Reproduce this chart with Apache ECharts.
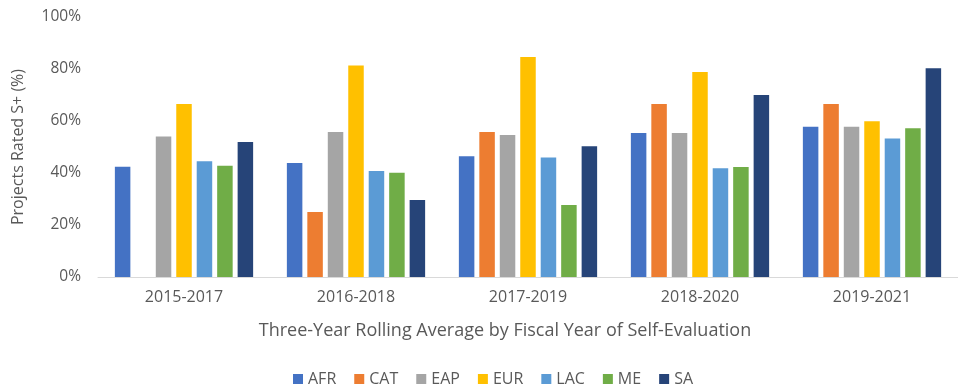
<!DOCTYPE html>
<html><head><meta charset="utf-8">
<script src="https://cdn.jsdelivr.net/npm/echarts@6/dist/echarts.min.js"></script>
<style>html,body{margin:0;padding:0;background:#fff}#c{width:958px;height:384px}</style>
</head><body><div id="c"></div>
<script>
const categories = ['2015-2017','2016-2018','2017-2019','2018-2020','2019-2021'];
const seriesNames = ['AFR','CAT','EAP','EUR','LAC','ME','SA'];
const AFR = [42.4, 43.8, 46.4, 55.4, 57.8];
const CAT = [null, 25.0, 55.8, 66.5, 66.5];
const EAP = [54.0, 55.8, 54.6, 55.4, 57.8];
const EUR = [66.5, 81.3, 84.6, 78.8, 59.9];
const LAC = [44.5, 40.8, 46.0, 41.8, 53.3];
const ME  = [42.8, 40.1, 27.7, 42.3, 57.2];
const SA  = [51.9, 29.6, 50.3, 70.0, 80.3];
const yTicks = [0, 20, 40, 60, 80, 100];
const colors = ['#4472C4','#ED7D31','#A5A5A5','#FFC000','#5B9BD5','#70AD47','#264478'];
const values = [AFR, CAT, EAP, EUR, LAC, ME, SA];
const font = 'Open Sans';
const chart = echarts.init(document.getElementById('c'));
chart.setOption({
  animation: false,
  color: colors,
  textStyle: {fontFamily: font},
  grid: {left: 98, top: 17, width: 871, height: 260},
  xAxis: {
    type: 'category', data: categories,
    axisLine: {lineStyle: {color: '#d9d9d9', width: 1}},
    axisTick: {show: false},
    axisLabel: {color: '#595959', fontSize: 16, margin: 12, fontFamily: font}
  },
  yAxis: {
    type: 'value', min: yTicks[0], max: yTicks[yTicks.length-1], interval: 20,
    name: 'Projects Rated S+ (%)', nameLocation: 'middle', nameGap: 72,
    nameTextStyle: {color: '#595959', fontSize: 16, fontFamily: font},
    axisLine: {show: false}, axisTick: {show: false},
    splitLine: {show: false},
    axisLabel: {color: '#595959', fontSize: 15.5, margin: 17, formatter: v => v + '%', fontFamily: font}
  },
  legend: {
    data: seriesNames, left: 288, top: 366,
    itemWidth: 10, itemHeight: 10, itemGap: 18, icon: 'rect',
    textStyle: {color: '#595959', fontSize: 16, fontFamily: font}
  },
  graphic: [{
    type: 'text', x: 505, y: 331,
    style: {text: 'Three-Year Rolling Average by Fiscal Year of Self-Evaluation', fill: '#595959',
      font: '18px "' + font + '"', textAlign: 'center', textVerticalAlign: 'middle'}
  }],
  series: seriesNames.map((n, i) => ({
    name: n, type: 'bar', data: values[i], barWidth: 15.5, barGap: '32%'
  }))
});
</script></body></html>
